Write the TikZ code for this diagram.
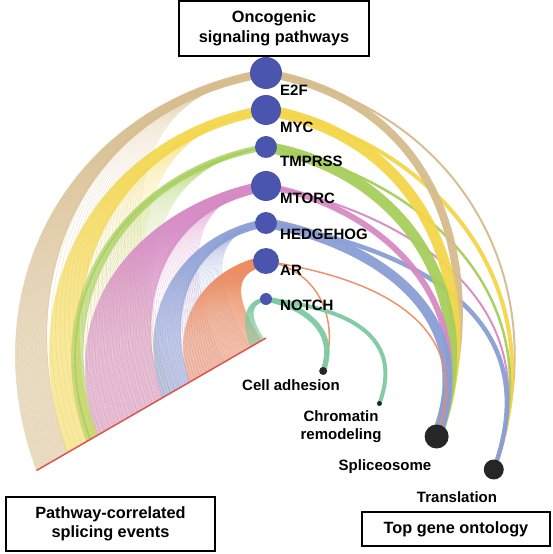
\documentclass[tikz,border=0pt]{standalone}
\usepackage{fontspec}
\setmainfont{Liberation Sans}
\usetikzlibrary{backgrounds}

\definecolor{hub}{RGB}{74,86,173}
\definecolor{termgray}{RGB}{38,38,38}
\definecolor{axisred}{RGB}{217,86,80}
\definecolor{sand}{RGB}{214,188,140}
\definecolor{lemon}{RGB}{243,214,74}
\definecolor{lime}{RGB}{166,206,92}
\definecolor{rose}{RGB}{214,138,196}
\definecolor{steel}{RGB}{138,158,213}
\definecolor{coral}{RGB}{236,140,98}
\definecolor{mint}{RGB}{124,201,160}

\begin{document}
\begin{tikzpicture}[x=1pt, y=1pt]
  \tikzstyle{signal}=[circle, fill=hub, inner sep=0pt]
  \tikzstyle{term}=[circle, fill=termgray, inner sep=0pt]
  \tikzstyle{tag}=[inner sep=0pt, font=\fontsize{15}{18}\selectfont\bfseries]
  \tikzstyle{panel}=[draw, line width=1.7pt, align=center, inner sep=0pt,
    font=\fontsize{16.3}{19.5}\selectfont\bfseries]
  \tikzstyle{strand}=[line width=0.7pt, opacity=0.4]
  \tikzstyle{faint}=[line width=0.7pt, opacity=0.3]
  \tikzstyle{link}=[opacity=0.95]

  \useasboundingbox (-266,-216) rectangle (286,338);

  % pathways on the upper axis
  \foreach \name/\r/\size in {e2f/265/32, myc/228/30, tmprss/191/22,
    mtorc/152/30, hedgehog/115/22, ar/77/26, notch/39/12}
  {
    \path (90:\r) node[signal, minimum size=\size pt] (\name) {};
  }
  \foreach \name/\txt/\dy in {e2f/E2F/17, myc/MYC/17, tmprss/TMPRSS/14,
    mtorc/MTORC/12, hedgehog/HEDGEHOG/11, ar/AR/9, notch/NOTCH/6}
  {
    \node[tag, anchor=west] (\name-tag) at ([shift={(14,-\dy)}]\name.center) {\txt};
  }

  % gene ontology terms on the lower right axis
  \foreach \name/\r/\size in {adhesion/66/8, chromatin/131/5,
    spliceosome/197/24, translation/263/20}
  {
    \path (-30:\r) node[term, minimum size=\size pt] (\name) {};
  }
  \node[tag, anchor=base] (adhesion-tag) at (25,-52.5) {Cell adhesion};
  \node[tag, align=center] (chromatin-tag) at (75,-88.5) {Chromatin\\remodeling};
  \node[tag, anchor=base] (spliceosome-tag) at (119,-132.7) {Spliceosome};
  \node[tag, anchor=base] (translation-tag) at (191,-164.7) {Translation};

  % splicing events axis
  \coordinate (origin) at (0,0);
  \coordinate (last-event) at (210:265);
  \draw[axisred, line width=1.5pt] (origin) -- (last-event);

  \begin{scope}[on background layer]
    % faint spread of events
    \foreach \name/\col/\rp/\lo/\hi in {e2f/sand/265/100/229,
      myc/lemon/228/110/195, tmprss/lime/191/110/194,
      mtorc/rose/152/50/119, hedgehog/steel/115/20/88}
    {
      \foreach \k in {0,...,24}
      {
        \pgfmathsetmacro\rs{\lo+(\hi-\lo)*\k/24}
        \coordinate (ev) at (210:\rs);
        \draw[faint, \col] (\name.center) .. controls (130:1.14*\rp) and (170:1.14*\rs) .. (ev);
      }
    }

    % dense bands of events
    \foreach \name/\col/\rp/\lo/\hi/\spread in {e2f/sand/265/229/265/8,
      myc/lemon/228/195/229/10, tmprss/lime/191/194/207/6,
      mtorc/rose/152/119/194/10, hedgehog/steel/115/88/119/8,
      ar/coral/77/5/88/10, notch/mint/39/2/18/4}
    {
      \pgfmathtruncatemacro\n{2*(\hi-\lo)}
      \foreach \k in {0,...,\n}
      {
        \pgfmathsetmacro\rs{\lo+\k/2}
        \pgfmathsetmacro\dy{\spread*\k/\n-\spread/2}
        \coordinate (ev) at (210:\rs);
        \draw[strand, \col] ([yshift=\dy pt]\name.center) .. controls (130:1.14*\rp+\dy) and (170:1.14*\rs) .. (ev);
      }
    }
    \coordinate (ev) at (210:203);
    \draw[lime, line width=1.6pt, opacity=0.8] (tmprss.center) .. controls (130:1.14*191) and (170:1.14*203) .. (ev);

    % links to the top gene ontology
    \foreach \name/\col/\rp/\goal/\rg/\w in {
      e2f/sand/265/translation/263/2, myc/lemon/228/translation/263/4,
      tmprss/lime/191/translation/263/2.5, mtorc/rose/152/translation/263/2,
      hedgehog/steel/115/translation/263/4.5,
      e2f/sand/265/spliceosome/197/8, myc/lemon/228/spliceosome/197/11,
      tmprss/lime/191/spliceosome/197/11, mtorc/rose/152/spliceosome/197/6,
      hedgehog/steel/115/spliceosome/197/10, ar/coral/77/spliceosome/197/1.5,
      ar/coral/77/adhesion/66/1.5, notch/mint/39/adhesion/66/5.5,
      notch/mint/39/chromatin/131/4}
    {
      \draw[link, \col, line width=\w pt] (\name.center) .. controls (50:1.14*\rp) and (10:1.14*\rg) .. (\goal.center);
    }
  \end{scope}

  % boxes
  \node[panel, minimum width=190pt, minimum height=55pt] (pathway-box) at (8,309.5) {Oncogenic\\signaling pathways};
  \node[panel, minimum width=209pt, minimum height=54pt] (event-box) at (-155.5,-186) {Pathway-correlated\\splicing events};
  \node[panel, minimum width=188pt, minimum height=34pt] (ontology-box) at (190,-191) {Top gene ontology};
\end{tikzpicture}
\end{document}
